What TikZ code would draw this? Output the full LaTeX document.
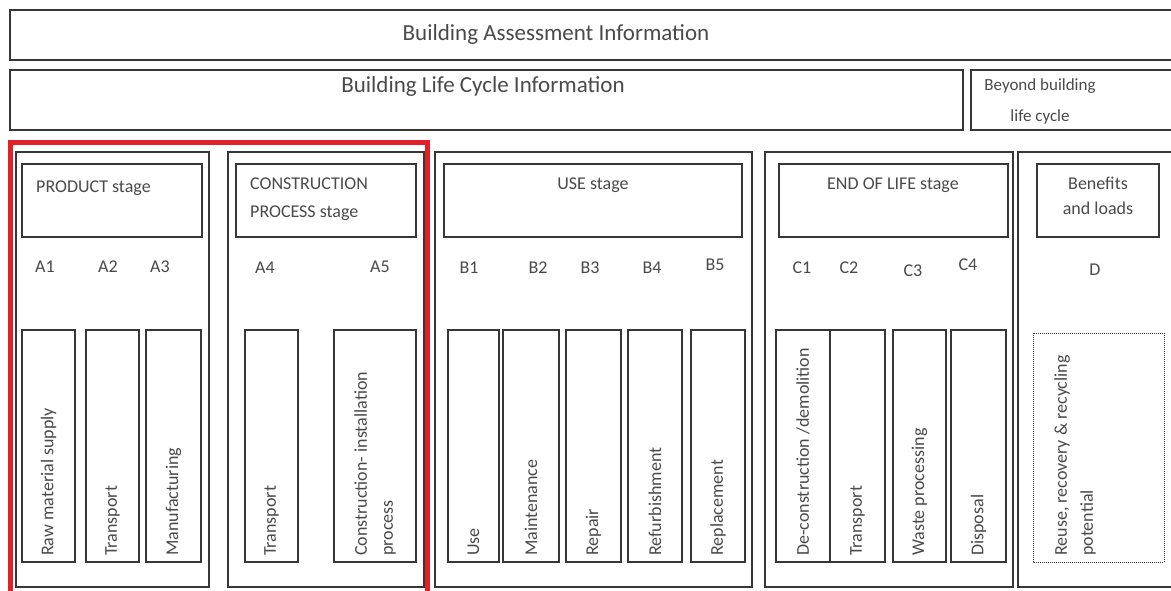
\documentclass[tikz,border=0pt]{standalone}
\usepackage{fontspec}
\setmainfont{Carlito}
\usetikzlibrary{positioning}
\definecolor{frame}{HTML}{363636}
\definecolor{redline}{HTML}{E3202A}
\definecolor{txt}{HTML}{4A4A4A}

\begin{document}
\begin{tikzpicture}[x=1pt,y=-1pt,
  box/.style={draw=frame,line width=1.5pt},
  lbl/.style={text=txt,inner sep=0pt,font=\fontsize{18}{26}\selectfont},
  toplbl/.style={lbl,font=\fontsize{23}{28}\selectfont},
  vlabel/.style={lbl,rotate=90,anchor=west,align=left}]
        \def\subtop{330}\def\subbot{562}
        \useasboundingbox (0,0) rectangle (1171,591);
        \fill[white] (0,0) rectangle (1171,591);
        \draw[box] (10,10) rectangle (1190,60);
        \node[toplbl] (bai) at (556,34) {Building Assessment Information};
        \draw[box] (10,70) rectangle (963,130);
        \node[toplbl] (blc) at (483,86) {Building Life Cycle Information};
        \draw[box] (971,70) rectangle (1190,130);
        \node[lbl,align=center,font=\fontsize{17}{31}\selectfont] (bbl) at (1040,101) {Beyond building\\life cycle};
        \foreach \n/\xa/\xb/\ha/\hb in {prod/16/209/22/202,cons/228/424/236/416,use/435/752/444/742,eol/765/1013/779/1008,ben/1018/1190/1037/1159}{
          \draw[box] (\xa,152) rectangle (\xb,587);
          \draw[box] (\ha,164) rectangle (\hb,237);}
        \node[lbl,anchor=west] (hprod) at (36,188) {PRODUCT stage};
        \node[lbl,anchor=west,align=left,font=\fontsize{18}{28}\selectfont] (hcons) at (250,199) {CONSTRUCTION\\PROCESS stage};
        \node[lbl] (huse) at (593,185) {USE stage};
        \node[lbl] (heol) at (893,185) {END OF LIFE stage};
        \node[lbl,align=center,font=\fontsize{18}{25}\selectfont] (hben) at (1098,196) {Benefits\\and loads};
        \foreach \c/\x/\y in {A1/45/267,A2/108/267,A3/160/267,A4/265/268,A5/380/267,B1/469/268,B2/538/268,B3/590/268,B4/652/268,B5/715/265,C1/802/268,C2/849/268,C3/913/271,C4/968/265,D/1095/270}{
          \node[lbl] (m\c) at (\x,\y) {\c};}
        \foreach \n/\xa/\xb/\t in {a1/22/75/{Raw material supply},a2/86/139/Transport,a3/146/201/Manufacturing,a4/245/298/Transport,a5/334/416/{Construction- installation\\process},b1/448/499/Use,b2/503/559/Maintenance,b3/566/621/Repair,b4/628/682/Refurbishment,b5/691/745/Replacement,c1/776/830/{De-construction /demolition},c2/830/885/Transport,c3/893/946/{Waste processing},c4/951/1006/Disposal}{
          \draw[box] (\xa,\subtop) rectangle (\xb,\subbot);
          \node[vlabel] (s\n) at ({(\xa+\xb)/2},556) {\t};}
        \draw[frame,line width=1pt,densely dotted] (1033,333) rectangle (1164,\subbot);
        \node[vlabel] (sd) at (1075,556) {Reuse, recovery \& recycling\\potential};
        \draw[redline,line width=5pt] (10,143) rectangle (427,610);
      \end{tikzpicture}
\end{document}
